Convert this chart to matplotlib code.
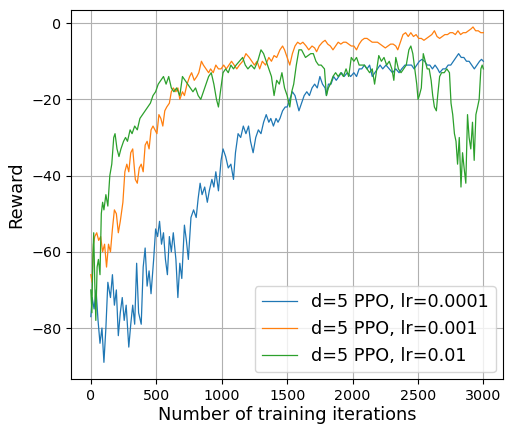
import matplotlib
matplotlib.use('Agg')
import matplotlib.pyplot as plt
import numpy as np

# values (iteration, reward)
it_lr1e4 = [0, 10, 25, 40, 55, 70, 85, 100, 115, 130, 150, 165, 180, 195, 210, 225, 240, 255, 270, 290,
            305, 320, 335, 350, 365, 385, 400, 415, 430, 445, 460, 480, 495, 510, 525, 540, 555, 570, 585, 600,
            615, 630, 650, 665, 680, 695, 715, 730, 745, 765, 785, 805, 820, 835, 850, 870, 890, 905, 925, 940,
            955, 975, 995, 1010, 1030, 1050, 1070, 1090, 1105, 1125, 1145, 1165, 1185, 1205, 1220, 1240, 1260,
            1280, 1300, 1320, 1340, 1360, 1375, 1395, 1415, 1430, 1445, 1465, 1485, 1500, 1520, 1540, 1560,
            1575, 1590, 1610, 1630, 1650, 1670, 1690, 1710, 1730, 1750, 1770, 1790, 1800, 1815, 1835, 1855,
            1875, 1895, 1915, 1935, 1960, 1985, 2010, 2030, 2050, 2070, 2090, 2110, 2130, 2150, 2170, 2190,
            2210, 2230, 2255, 2280, 2305, 2330, 2355, 2375, 2400, 2425, 2450, 2470, 2490, 2510, 2530, 2550,
            2570, 2590, 2610, 2630, 2650, 2665, 2690, 2710, 2730, 2750, 2770, 2790, 2810, 2830, 2850, 2870,
            2890, 2910, 2930, 2950, 2970, 2985, 2999]
rw_lr1e4 = [-77, -72, -75, -70, -78, -84, -80, -89, -80, -68, -72, -66, -74, -70, -82, -76, -72, -78, -74, -85,
            -79, -74, -79, -63, -76, -79, -64, -59, -69, -65, -71, -62, -54, -56, -52, -58, -55, -62, -66, -56,
            -60, -55, -62, -72, -63, -67, -53, -57, -62, -51, -49, -51, -46, -42, -45, -43, -47, -44, -41, -43,
            -39, -44, -36, -33, -35, -38, -37, -41, -34, -29, -30, -27, -29, -27, -31, -34, -30,
            -28, -29, -26, -24, -26, -25, -27, -25, -26, -25, -23, -22, -22, -20, -18, -19,
            -21, -23, -21, -19, -18, -19, -17, -16, -17, -14, -16, -17, -19, -16, -16, -14,
            -15, -14, -13, -14, -13, -14, -13, -14, -12, -12, -11, -12, -11, -14, -13, -12,
            -11, -12, -11, -12, -13, -12, -13, -12, -11, -11, -11, -12, -11, -10, -9.5, -10,
            -11, -11, -12, -11, -12, -13, -12, -12, -11, -11, -10, -9, -8, -9, -9, -10,
            -10, -11, -12, -11, -10, -9.5, -10]

it_lr1e3 = [0, 10, 20, 30, 45, 60, 75, 90, 105, 120, 135, 150, 165, 180, 195, 210, 225, 245, 260, 275,
            290, 305, 320, 340, 355, 370, 385, 400, 415, 430, 445, 460, 475, 490, 505, 520, 535, 550, 565, 580,
            600, 615, 630, 650, 665, 680, 700, 715, 735, 755, 770, 790, 810, 825, 845, 860, 880, 900, 915, 935,
            955, 975, 995, 1015, 1035, 1055, 1075, 1095, 1115, 1135, 1160, 1185, 1210, 1230, 1250, 1270, 1290,
            1310, 1335, 1360, 1380, 1400, 1420, 1445, 1465, 1480, 1500, 1520, 1540, 1560, 1580, 1600, 1620,
            1645, 1665, 1690, 1710, 1725, 1745, 1770, 1790, 1810, 1830, 1850, 1870, 1890, 1910, 1930, 1950,
            1970, 1990, 2010, 2030, 2050, 2070, 2090, 2110, 2130, 2150, 2170, 2190, 2210, 2230, 2250, 2270,
            2290, 2310, 2330, 2345, 2365, 2385, 2405, 2425, 2445, 2465, 2485, 2505, 2525, 2545, 2565, 2585,
            2605, 2625, 2645, 2665, 2685, 2705, 2725, 2745, 2765, 2785, 2805, 2825, 2845, 2865, 2885, 2905,
            2920, 2940, 2960, 2980, 2999]
rw_lr1e3 = [-66, -68, -58, -56, -55, -57, -56, -60, -58, -64, -58, -60, -54, -49, -50, -55, -52, -47, -39, -37,
            -39, -34, -33, -41, -42, -38, -37, -39, -32, -31, -33, -28, -27, -28, -29, -24, -25, -27, -23, -22,
            -21, -18, -17, -18, -17, -20, -18, -19, -16, -14, -13, -15, -14, -13, -10, -11, -12, -13, -12, -13,
            -11, -12, -12, -11, -12, -11, -10, -11, -12, -11, -10, -8, -9, -10, -11, -10, -12,
            -10, -11, -9, -10, -8.5, -9, -7, -6, -7, -9, -11, -8, -6, -5, -5.5, -5,
            -6, -7, -6, -6.5, -7.5, -6, -5, -4.5, -5.5, -6, -7, -6, -5, -5.5, -5, -5,
            -5.5, -6, -6, -7, -5.5, -4.5, -4, -4, -4.5, -5, -5, -5, -5.5, -6, -6.5, -6,
            -5.5, -5.5, -6, -7, -5, -3, -2.5, -3.5, -2.5, -3.5, -3, -4, -4, -4.5, -4, -3.5,
            -3, -2, -3.5, -4, -3.5, -3, -3, -2.5, -2.5, -3, -2, -3, -2.5, -2.5, -2, -1.5,
            -1, -2, -2, -2.5, -2.5]

it_lr1e2 = [0, 8, 15, 22, 30, 38, 48, 58, 70, 80, 90, 100, 115, 130, 145, 160, 175, 185, 200, 215,
            230, 250, 265, 280, 300, 315, 335, 355, 375, 395, 415, 435, 455, 475, 495, 515, 535, 555, 575, 595,
            615, 635, 655, 680, 700, 720, 740, 760, 780, 800, 820, 840, 860, 880, 900, 920, 940, 960, 975, 990,
            1010, 1030, 1050, 1070, 1090, 1110, 1135, 1160, 1180, 1200, 1225, 1250, 1275, 1300, 1320, 1340,
            1360, 1380, 1400, 1420, 1440, 1460, 1480, 1500, 1520, 1535, 1550, 1570, 1590, 1610, 1625, 1640,
            1660, 1680, 1700, 1720, 1740, 1760, 1785, 1800, 1815, 1830, 1850, 1870, 1890, 1910, 1930, 1950,
            1970, 1990, 2010, 2030, 2050, 2070, 2090, 2110, 2130, 2150, 2168, 2185, 2200, 2220, 2240, 2260,
            2280, 2300, 2315, 2330, 2350, 2370, 2390, 2410, 2430, 2445, 2460, 2475, 2490, 2500, 2510, 2525,
            2540, 2555, 2570, 2585, 2600, 2612, 2625, 2640, 2650, 2665, 2680, 2700, 2720, 2740, 2752, 2765,
            2778, 2790, 2802, 2815, 2828, 2840, 2852, 2865, 2878, 2890, 2903, 2916, 2929, 2942, 2955, 2967,
            2980, 2990, 2999]
rw_lr1e2 = [-70, -76, -62, -55, -68, -78, -64, -62, -66, -50, -47, -49, -45, -48, -40, -37, -30, -29, -33, -35,
            -33, -31, -30, -31, -28, -29, -27, -28, -25, -24, -23, -22, -21, -19, -18, -16, -15, -14, -16, -14,
            -17, -18, -17, -19, -14, -15, -16, -17, -18, -17, -19, -20, -18, -16, -14, -13, -16, -20, -22, -18,
            -13, -12, -13, -11, -12, -11, -10, -9, -11, -12, -11, -12, -10, -7, -8, -10,
            -12, -14, -19, -15, -16, -13, -17, -19, -22, -18, -16, -11, -7, -7, -8, -9,
            -8.5, -8, -8, -10, -11, -11, -12, -19, -17, -16, -14, -13, -14, -13, -14, -12,
            -14, -9, -10, -9, -11, -11, -11, -12, -13, -12, -16, -12, -8.5, -10, -9, -11,
            -10, -12, -15, -9, -12, -13, -12, -11, -7, -6, -8, -12, -16, -20, -19, -17,
            -8, -10, -12, -12, -15, -19, -22, -23, -19, -14, -13, -13, -12, -13, -21, -24,
            -29, -31, -37, -30, -43, -34, -38, -42, -24, -30, -33, -26, -36, -24, -22, -20,
            -12, -11, -12]

fig = plt.figure(figsize=(5.05, 4.25), dpi=100)
ax = fig.add_subplot(111)
fig.subplots_adjust(left=0.141, right=0.996, top=0.976, bottom=0.108)

ax.plot(it_lr1e4, rw_lr1e4, linewidth=0.9, label='d=5 PPO, lr=0.0001')
ax.plot(it_lr1e3, rw_lr1e3, linewidth=0.9, label='d=5 PPO, lr=0.001')
ax.plot(it_lr1e2, rw_lr1e2, linewidth=0.9, label='d=5 PPO, lr=0.01')

ax.set_xlabel('Number of training iterations', fontsize=12.8, labelpad=2)
ax.set_ylabel('Reward', fontsize=12.8)
ax.tick_params(labelsize=10.3)
ax.set_xticks([0, 500, 1000, 1500, 2000, 2500, 3000])
ax.grid(True)
ax.legend(loc='lower right', fontsize=12.7, borderaxespad=0.4)

plt.savefig('out.png', dpi=100)
